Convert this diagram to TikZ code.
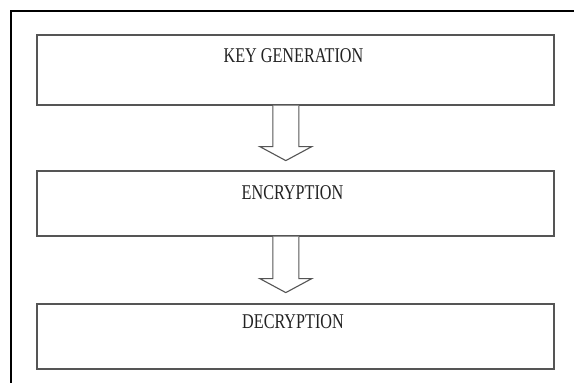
\documentclass[tikz,border=0pt]{standalone}
\usepackage{fontspec}
\setmainfont{Liberation Serif}
\usepackage{graphicx}
\usetikzlibrary{calc}
\definecolor{boxgray}{HTML}{555555}
\definecolor{txt}{HTML}{222222}
\tikzset{
  box/.style={draw=boxgray, line width=1.6pt, fill=white, minimum width=517pt, inner sep=0pt, anchor=north west},
  lbl/.style={text=txt, inner sep=0pt, anchor=base, font=\fontsize{21}{24}\selectfont},
  blockarrow/.style={draw=boxgray, line width=1.1pt, fill=white, line join=miter},
  frame/.style={draw=black, line width=2pt}
}
\newcommand{\cond}[1]{\scalebox{0.77}[1]{#1}}
\begin{document}
\begin{tikzpicture}[x=1pt,y=-1pt]
\useasboundingbox (0,0) rectangle (574,383);
\fill[white] (0,0) rectangle (574,383);
\coordinate (fa) at (11,383);
\coordinate (fb) at (11,11);
\coordinate (fc) at (574,11);
\draw[frame] (fa) -- (fb) -- (fc);
\node[box, minimum height=70pt] (kg) at (36,34) {};
\node[box, minimum height=65pt] (enc) at (36,170) {};
\node[box, minimum height=65pt] (dec) at (36,303) {};
\node[lbl] (kgt) at (293.5,62) {\cond{KEY GENERATION}};
\node[lbl] (enct) at (292.5,199) {\cond{ENCRYPTION}};
\node[lbl] (dect) at (293,328) {\cond{DECRYPTION}};
% block arrows
\draw[blockarrow] ($(kg.south)+(-22.5,0)$) -- ++(0,41) -- ++(-13,0) -- ++(26,14) -- ++(26,-14) -- ++(-13,0) -- ($(kg.south)+(3.5,0)$);
\draw[blockarrow] ($(enc.south)+(-22.5,0)$) -- ++(0,42) -- ++(-13,0) -- ++(26,14) -- ++(26,-14) -- ++(-13,0) -- ($(enc.south)+(3.5,0)$);
\end{tikzpicture}
\end{document}
